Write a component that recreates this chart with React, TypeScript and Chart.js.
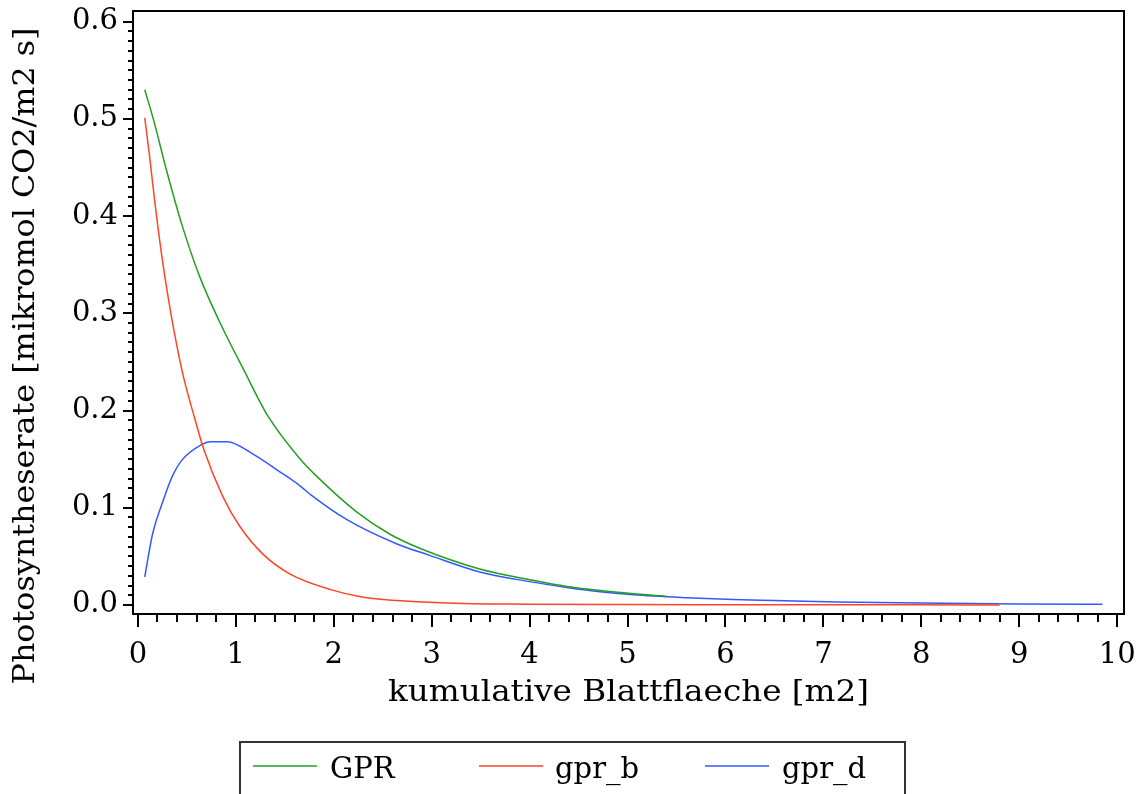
import React, { useEffect, useRef } from 'react';
import { Chart, registerables } from 'chart.js';

Chart.register(...registerables);

// ---- data ----
const gprX = [0.07, 0.16, 0.29, 0.45, 0.63, 0.84, 1.08, 1.33, 1.65, 1.83, 2.23, 2.57, 2.91, 3.49, 4.0, 4.38, 4.9, 5.4];
const gprY = [0.53, 0.499, 0.448, 0.391, 0.338, 0.29, 0.242, 0.194, 0.151, 0.132, 0.096, 0.073, 0.057, 0.037, 0.026, 0.019, 0.013, 0.0088];

const gprBX = [0.07, 0.12, 0.17, 0.24, 0.31, 0.38, 0.46, 0.58, 0.67, 0.87, 1.04, 1.28, 1.55, 1.96, 2.3, 2.81, 3.32, 4.0, 5.0, 6.0, 7.0, 8.0, 8.8];
const gprBY = [0.501, 0.461, 0.417, 0.362, 0.316, 0.276, 0.237, 0.192, 0.161, 0.111, 0.081, 0.052, 0.032, 0.016, 0.008, 0.0035, 0.0015, 0.0008, 0.0004, 0.0002, 0.0001, 0.0001, 0.0];

const gprDX = [0.07, 0.15, 0.26, 0.35, 0.45, 0.65, 0.74, 0.91, 1.18, 1.45, 1.65, 1.77, 2.13, 2.64, 2.98, 3.49, 4.0, 4.38, 4.72, 5.06, 5.6, 6.08, 6.5, 7.14, 8.0, 9.0, 9.85];
const gprDY = [0.029, 0.073, 0.108, 0.132, 0.149, 0.165, 0.168, 0.168, 0.155, 0.137, 0.123, 0.113, 0.088, 0.063, 0.051, 0.034, 0.024, 0.018, 0.0135, 0.0105, 0.0075, 0.0055, 0.0045, 0.003, 0.002, 0.001, 0.0007];

const seriesNames = ['GPR', 'gpr_b', 'gpr_d'];
const seriesColors = ['#22a022', '#ff4424', '#3358ff'];

const xTicks = [0, 1, 2, 3, 4, 5, 6, 7, 8, 9, 10];
const xTickLabels = ['0', '1', '2', '3', '4', '5', '6', '7', '8', '9', '10'];
const yTicks = [0, 0.1, 0.2, 0.3, 0.4, 0.5, 0.6];
const yTickLabels = ['0.0', '0.1', '0.2', '0.3', '0.4', '0.5', '0.6'];

const xTitle = 'kumulative Blattflaeche [m2]';
const yTitle = 'Photosyntheserate [mikromol CO2/m2 s]';

const FONT_FAMILY = '"DejaVu Serif", serif';

const toPoints = (xs: number[], ys: number[]) => xs.map((x, i) => ({ x, y: ys[i] }));

const decorPlugin = {
  id: 'decor',
  afterDraw(chart: any) {
    const { ctx, chartArea, scales } = chart;
    const { left, right, top, bottom } = chartArea;
    ctx.save();
    ctx.strokeStyle = '#000';
    ctx.fillStyle = '#000';
    ctx.lineWidth = 2;
    // frame
    ctx.strokeRect(left, top, right - left, bottom - top);
    // x ticks: major every 1, minor every 0.2
    ctx.beginPath();
    for (let i = 0; i <= 50; i++) {
      const v = i / 5;
      const px = Math.round(scales.x.getPixelForValue(v));
      const len = i % 5 === 0 ? 13 : 8;
      ctx.moveTo(px, bottom);
      ctx.lineTo(px, bottom + len);
    }
    // y ticks: major every 0.1, minor every 0.01
    for (let i = 0; i <= 60; i++) {
      const v = i / 100;
      const py = Math.round(scales.y.getPixelForValue(v));
      const len = i % 10 === 0 ? 10 : 5;
      ctx.moveTo(left, py);
      ctx.lineTo(left - len, py);
    }
    ctx.stroke();

    // axis titles
    ctx.font = `29px ${FONT_FAMILY}`;
    ctx.textAlign = 'center';
    ctx.textBaseline = 'middle';
    const xw = ctx.measureText(xTitle).width;
    ctx.save();
    ctx.translate((left + right) / 2, 693);
    ctx.scale(481 / xw, 1);
    ctx.fillText(xTitle, 0, 0);
    ctx.restore();

    const yw = ctx.measureText(yTitle).width;
    ctx.save();
    ctx.translate(26, 356);
    ctx.rotate(-Math.PI / 2);
    ctx.scale(657 / yw, 1);
    ctx.fillText(yTitle, 0, 0);
    ctx.restore();

    // legend
    ctx.lineWidth = 2;
    ctx.strokeStyle = '#333';
    ctx.strokeRect(240, 742, 665, 80);
    const lineStarts = [253, 479, 705];
    const textStarts = [330, 555, 782];
    ctx.textAlign = 'left';
    ctx.textBaseline = 'middle';
    for (let i = 0; i < seriesNames.length; i++) {
      ctx.strokeStyle = seriesColors[i];
      ctx.lineWidth = 1.5;
      ctx.beginPath();
      ctx.moveTo(lineStarts[i], 766);
      ctx.lineTo(lineStarts[i] + 64, 766);
      ctx.stroke();
      ctx.fillStyle = '#000';
      ctx.fillText(seriesNames[i], textStarts[i], 770);
    }
    ctx.restore();
  },
};

export default function App() {
  const ref = useRef<HTMLCanvasElement>(null);
  useEffect(() => {
    const font = { family: FONT_FAMILY, size: 29 };
    const ds = (i: number, xs: number[], ys: number[]) => ({
      label: seriesNames[i],
      data: toPoints(xs, ys),
      borderColor: seriesColors[i],
      borderWidth: 1.5,
      pointRadius: 0,
      cubicInterpolationMode: 'monotone',
      fill: false,
    });
    const chart = new Chart(ref.current as HTMLCanvasElement, {
      type: 'line',
      data: {
        datasets: [ds(0, gprX, gprY), ds(1, gprBX, gprBY), ds(2, gprDX, gprDY)],
      },
      options: {
        animation: false,
        responsive: false,
        maintainAspectRatio: false,
        layout: { padding: { top: 11, right: 17, left: 0, bottom: 70 } },
        plugins: { legend: { display: false }, tooltip: { enabled: false } },
        scales: {
          x: {
            type: 'linear',
            min: -0.05,
            max: 10.07,
            afterBuildTicks: (s: any) => { s.ticks = xTicks.map((v) => ({ value: v })); },
            afterFit: (s: any) => {
              s.height = 110;
              s.paddingLeft = 0;
              s.paddingRight = 0;
              s.paddingTop = 0;
              s.paddingBottom = 0;
            },
            grid: { display: false, drawTicks: false },
            border: { display: false },
            ticks: {
              color: '#000',
              font,
              padding: 24,
              maxRotation: 0,
              autoSkip: false,
              callback: (v: any) => xTickLabels[xTicks.indexOf(Number(v))],
            },
          },
          y: {
            type: 'linear',
            min: -0.0093,
            max: 0.611,
            afterBuildTicks: (s: any) => { s.ticks = yTicks.map((v) => ({ value: v })); },
            afterFit: (s: any) => {
              s.width = 133;
              s.paddingLeft = 0;
              s.paddingRight = 0;
              s.paddingTop = 0;
              s.paddingBottom = 0;
            },
            grid: { display: false, drawTicks: false },
            border: { display: false },
            ticks: {
              color: '#000',
              font,
              padding: 15,
              autoSkip: false,
              callback: (v: any) => yTickLabels[yTicks.findIndex((t) => Math.abs(t - Number(v)) < 1e-9)],
            },
          },
        },
      },
      plugins: [decorPlugin],
    } as any);
    return () => chart.destroy();
  }, []);
  return (
    <div style={{ position: 'fixed', left: 0, top: 0, width: 1141, height: 794, background: '#fff' }}>
      <canvas ref={ref} width={1141} height={794} />
    </div>
  );
}
